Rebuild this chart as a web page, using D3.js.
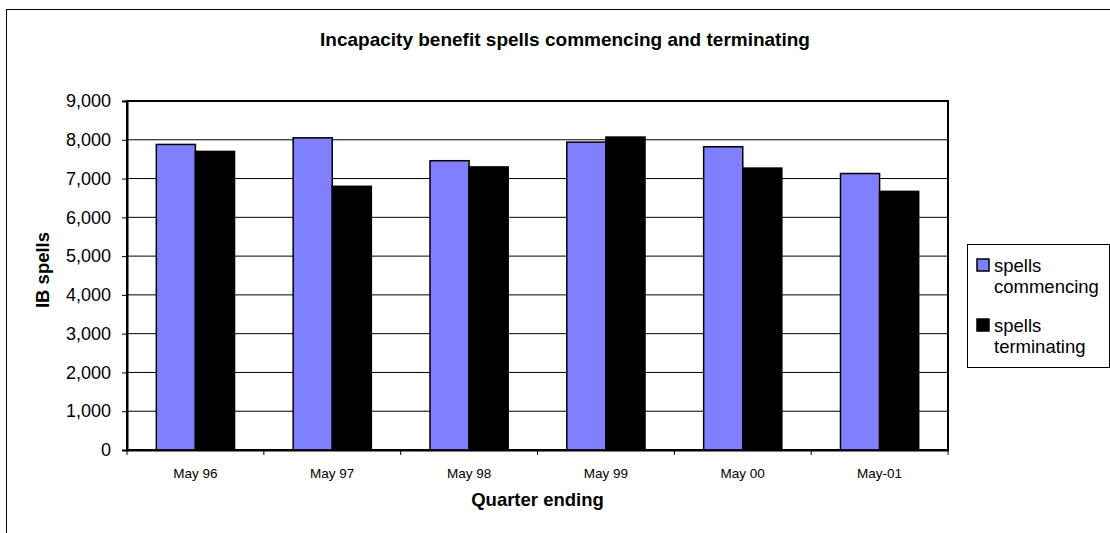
<!DOCTYPE html>
<html>
<head>
<meta charset="utf-8">
<script src="https://cdn.jsdelivr.net/npm/d3@7"></script>
<style>
  body { margin: 0; background: #fff; }
  svg { display: block; font-family: "Liberation Sans", Arial, sans-serif; }
</style>
</head>
<body>
<svg id="chart" width="1110" height="533"></svg>
<script>
// Data
const quarters = ["May 96", "May 97", "May 98", "May 99", "May 00", "May-01"];
const seriesNames = ["spells commencing", "spells terminating"];
const commencing = [7880, 8050, 7460, 7940, 7820, 7130];
const terminating = [7700, 6800, 7300, 8070, 7270, 6670];
const yTicks = [0, 1000, 2000, 3000, 4000, 5000, 6000, 7000, 8000, 9000];
const colours = ["#8080ff", "#000000"];

const svg = d3.select("#chart");

// outer chart frame (runs off the right and bottom of the picture)
svg.append("rect")
  .attr("x", 6.5).attr("y", 9.5)
  .attr("width", 1130).attr("height", 540)
  .attr("fill", "#fff").attr("stroke", "#000");

const plot = { left: 127, right: 948, top: 101, bottom: 450 };

const x0 = d3.scaleBand(quarters, [plot.left, plot.right]);
const x1 = d3.scaleBand(seriesNames, [0, x0.bandwidth()]).paddingOuter(0.75);
const y = d3.scaleLinear([0, 9000], [plot.bottom, plot.top]);

// gridlines
svg.append("g")
  .selectAll("line")
  .data(yTicks.filter(d => d > 0))
  .join("line")
  .attr("x1", plot.left).attr("x2", plot.right)
  .attr("y1", d => y(d)).attr("y2", d => y(d))
  .attr("stroke", "#000").attr("stroke-width", 1);

// plot frame
svg.append("rect")
  .attr("x", plot.left).attr("y", plot.top)
  .attr("width", plot.right - plot.left).attr("height", plot.bottom - plot.top)
  .attr("fill", "none").attr("stroke", "#000").attr("stroke-width", 2);

// bars
const rows = quarters.map((q, i) => ({ q, vals: [commencing[i], terminating[i]] }));
svg.append("g")
  .selectAll("g")
  .data(rows)
  .join("g")
  .attr("transform", d => `translate(${x0(d.q)},0)`)
  .selectAll("rect")
  .data(d => d.vals.map((v, j) => ({ name: seriesNames[j], v, j })))
  .join("rect")
  .attr("x", d => x1(d.name))
  .attr("y", d => y(d.v))
  .attr("width", x1.bandwidth())
  .attr("height", d => y(0) - y(d.v))
  .attr("fill", d => colours[d.j])
  .attr("stroke", "#000").attr("stroke-width", 1.5);

// y axis
const yAxis = svg.append("g")
  .attr("transform", `translate(${plot.left},0)`)
  .call(d3.axisLeft(y).tickValues(yTicks).tickFormat(d3.format(",")).tickSize(5).tickPadding(11));
yAxis.select(".domain").attr("stroke-width", 2);
yAxis.selectAll("text").attr("font-size", 18).attr("fill", "#000");

// x axis with ticks at category boundaries
const xAxis = svg.append("g")
  .attr("transform", `translate(0,${plot.bottom})`)
  .call(d3.axisBottom(x0).tickSize(0).tickPadding(18));
xAxis.select(".domain").attr("stroke-width", 2);
xAxis.selectAll("text").attr("font-size", 13.5).attr("fill", "#000");
xAxis.append("g")
  .selectAll("line")
  .data(quarters.map(q => x0(q)).concat([plot.right]))
  .join("line")
  .attr("x1", d => d).attr("x2", d => d)
  .attr("y1", 0).attr("y2", 5)
  .attr("stroke", "#000");

// titles
svg.append("text")
  .attr("x", 565).attr("y", 46)
  .attr("text-anchor", "middle")
  .attr("font-size", 19).attr("font-weight", "bold")
  .text("Incapacity benefit spells commencing and terminating");

svg.append("text")
  .attr("x", (plot.left + plot.right) / 2).attr("y", 506)
  .attr("text-anchor", "middle")
  .attr("font-size", 18.5).attr("font-weight", "bold")
  .text("Quarter ending");

svg.append("text")
  .attr("transform", "translate(49,270) rotate(-90)")
  .attr("text-anchor", "middle")
  .attr("font-size", 18.5).attr("font-weight", "bold")
  .text("IB spells");

// legend
const legend = svg.append("g");
legend.append("rect")
  .attr("x", 967.5).attr("y", 244.5)
  .attr("width", 142).attr("height", 123)
  .attr("fill", "#fff").attr("stroke", "#000");

const item = legend.selectAll("g.item")
  .data(seriesNames)
  .join("g")
  .attr("class", "item")
  .attr("transform", (d, i) => `translate(977,${259 + i * 60})`);
item.append("rect")
  .attr("width", 12).attr("height", 12)
  .attr("fill", (d, i) => colours[i])
  .attr("stroke", "#000").attr("stroke-width", 1.5);
item.append("text")
  .attr("x", 17).attr("y", 13)
  .attr("font-size", 18.5)
  .selectAll("tspan")
  .data(d => d.split(" "))
  .join("tspan")
  .attr("x", 17)
  .attr("dy", (d, i) => i === 0 ? 0 : 21)
  .text(d => d);
</script>
</body>
</html>
